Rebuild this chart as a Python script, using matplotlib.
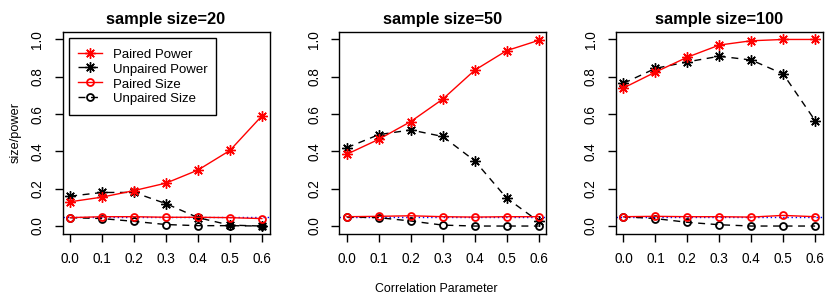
import matplotlib
matplotlib.use('Agg')
import matplotlib.pyplot as plt
import numpy as np

plt.rcParams['font.family'] = ['Liberation Sans', 'DejaVu Sans']

rho = [0.0, 0.1, 0.2, 0.3, 0.4, 0.5, 0.6]
sample_sizes = [20, 50, 100]

# power / size estimates per sample size
paired_power = [
    [0.13, 0.155, 0.19, 0.23, 0.30, 0.405, 0.59],
    [0.385, 0.465, 0.56, 0.68, 0.835, 0.94, 0.995],
    [0.74, 0.825, 0.905, 0.97, 0.993, 1.0, 1.0],
]
unpaired_power = [
    [0.16, 0.18, 0.18, 0.12, 0.045, 0.005, 0.0],
    [0.42, 0.49, 0.515, 0.48, 0.35, 0.15, 0.025],
    [0.765, 0.845, 0.88, 0.91, 0.89, 0.815, 0.565],
]
paired_size = [
    [0.045, 0.05, 0.05, 0.047, 0.047, 0.045, 0.04],
    [0.05, 0.052, 0.055, 0.05, 0.048, 0.05, 0.05],
    [0.05, 0.052, 0.05, 0.05, 0.048, 0.057, 0.05],
]
unpaired_size = [
    [0.045, 0.04, 0.025, 0.008, 0.002, 0.002, 0.0],
    [0.048, 0.045, 0.027, 0.005, 0.0, 0.0, 0.0],
    [0.05, 0.04, 0.02, 0.007, 0.0, 0.0, 0.0],
]
nominal = 0.05

W, H = 830, 297
fig = plt.figure(figsize=(W / 100, H / 100), dpi=100)

lefts = [62.5, 339.2, 615.8]
ast = (8, 2, 0)
dash = (0, (5, 4))

for i, n in enumerate(sample_sizes):
    ax = fig.add_axes([lefts[i] / W, (H - 233.5) / H, 207 / W, 201.5 / H])
    ax.axhline(nominal, color='blue', lw=1.0, ls=(0, (1, 2)), zorder=1)
    ax.plot(rho, paired_power[i], color='red', lw=1.0, marker=ast, ms=7.5, mew=1.0,
            label='Paired Power', zorder=3)
    ax.plot(rho, unpaired_power[i], color='black', lw=1.0, ls=dash, marker=ast, ms=7.5,
            mew=1.0, label='Unpaired Power', zorder=2)
    ax.plot(rho, paired_size[i], color='red', lw=1.0, marker='o', ms=5, mew=1.3,
            mfc='none', label='Paired Size', zorder=3)
    ax.plot(rho, unpaired_size[i], color='black', lw=1.0, ls=dash, marker='o', ms=5,
            mew=1.3, mfc='none', label='Unpaired Size', zorder=2)
    ax.set_xlim(-0.024, 0.624)
    ax.set_ylim(-0.04, 1.04)
    ax.set_xticks(rho)
    ax.set_xticklabels(['%.1f' % r for r in rho])
    ax.set_yticks([0, 0.2, 0.4, 0.6, 0.8, 1.0])
    ax.set_yticklabels(['0.0', '0.2', '0.4', '0.6', '0.8', '1.0'], rotation=90, va='center')
    ax.tick_params(direction='out', length=6, width=1, labelsize=9.8, pad=7)
    for s in ax.spines.values():
        s.set_linewidth(1.0)
    ax.set_title('sample size=%d' % n, fontsize=11.8, fontweight='bold', pad=6)
    if i == 0:
        ax.set_ylabel('size/power', fontsize=9.2, labelpad=6)
        ax.legend(loc='upper left', bbox_to_anchor=(69 / W, 1 - 37.7 / H),
                  bbox_transform=fig.transFigure, fancybox=False, framealpha=1,
                  edgecolor='black', fontsize=9.5, handlelength=1.8,
                  handleheight=1.25, handletextpad=0.8, labelspacing=0.02,
                  borderpad=0.7, borderaxespad=0)

fig.text(436.5 / W, 1 - 289 / H, 'Correlation Parameter', ha='center', va='center',
         fontsize=8.9)

fig.savefig('out.png', dpi=100)
